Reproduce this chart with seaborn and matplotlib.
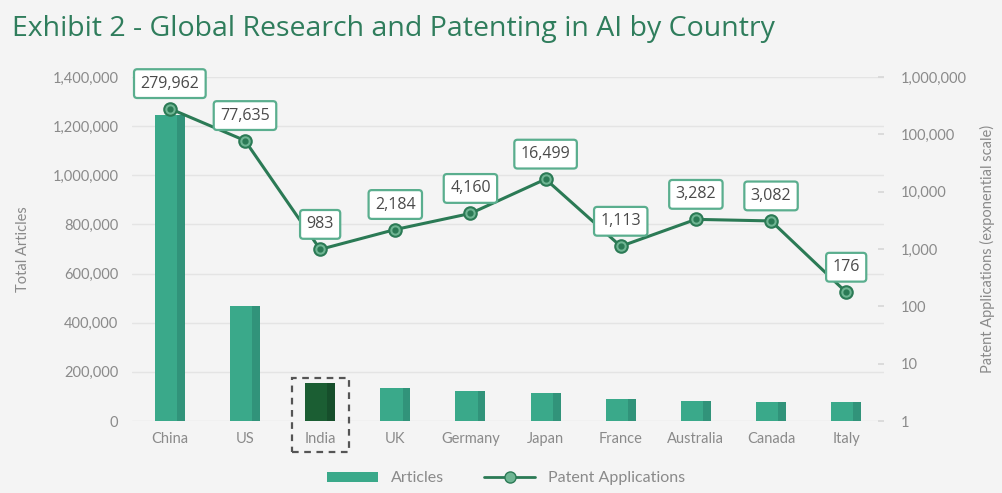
import numpy as np
import pandas as pd
import matplotlib
matplotlib.use("Agg")
import matplotlib.pyplot as plt
from matplotlib.patches import Rectangle, Patch
from matplotlib.lines import Line2D
from matplotlib.ticker import FuncFormatter, FixedLocator
import seaborn as sns

# ---- data ----
countries = ["China", "US", "India", "UK", "Germany", "Japan", "France", "Australia", "Canada", "Italy"]
articles = [1246000, 466000, 154000, 133000, 122000, 113000, 88000, 81000, 79000, 77000]
patents = [279962, 77635, 983, 2184, 4160, 16499, 1113, 3282, 3082, 176]
left_ticks = [0, 200000, 400000, 600000, 800000, 1000000, 1200000, 1400000]
right_ticks = [1, 10, 100, 1000, 10000, 100000, 1000000]
highlight = "India"

BG = "#f4f4f4"
BAR = "#3aa98a"
BAR_DARK = "#31937a"
HI = "#1b5e33"
HI_DARK = "#164e2b"
LINE = "#2b7a55"
BOX_EDGE = "#5aae8e"
TXT = "#8a8a8a"
TITLE = "#2f7d5c"

sns.set_theme(style="white")
plt.rcParams["font.family"] = ["Lato", "DejaVu Sans"]

fig = plt.figure(figsize=(10.02, 4.93), dpi=100, facecolor=BG)
ax = fig.add_axes([0.132, 0.146, 0.750, 0.698])
ax.set_facecolor(BG)

df = pd.DataFrame({"country": countries, "articles": articles, "patents": patents})
pal = [HI if c == highlight else BAR for c in countries]
sns.barplot(data=df, x="country", y="articles", hue="country", palette=pal,
            legend=False, width=0.4, ax=ax, saturation=1, edgecolor="none", zorder=2)

# darker right-side shading of each bar, derived from the bar geometry
for p, c in zip(ax.patches, countries):
    x, w, h = p.get_x(), p.get_width(), p.get_height()
    ax.add_patch(Rectangle((x + 0.74 * w, 0), 0.26 * w, h,
                           color=HI_DARK if c == highlight else BAR_DARK, lw=0, zorder=2.1))

ax.set_ylim(0, 1400000)
ax.set_xlim(-0.5, len(countries) - 0.5)
ax.yaxis.set_major_locator(FixedLocator(left_ticks))
ax.yaxis.set_major_formatter(FuncFormatter(lambda v, _: f"{int(v):,}"))
ax.grid(axis="y", color="#e4e4e4", lw=1, zorder=0)
ax.set_axisbelow(True)
for s in ax.spines.values():
    s.set_visible(False)
ax.tick_params(axis="both", length=0, colors=TXT, labelsize=10.5, pad=10)
ax.tick_params(axis="x", pad=8)
ax.set_xlabel("")
ax.set_ylabel("Total Articles", color=TXT, fontsize=10.5, labelpad=16)

# highlight box around India
hi_idx = countries.index(highlight)
hp = ax.patches[hi_idx]
trans = matplotlib.transforms.blended_transform_factory(ax.transData, ax.transAxes)
top_ax = (hp.get_height() / 1400000) + 0.015
ax.add_patch(Rectangle((hp.get_x() - 0.18, -0.09), hp.get_width() + 0.36, top_ax + 0.09,
                       transform=trans, fill=False, ec="#555555", lw=1.6,
                       ls=(0, (3, 2.5)), clip_on=False, zorder=5))

# patents on log twin axis
ax2 = ax.twinx()
ax2.set_yscale("log")
ax2.set_ylim(1, 1000000)
xs = np.arange(len(countries))
sns.lineplot(x=xs, y=patents, ax=ax2, color=LINE, lw=2.2, sort=False,
             marker="o", markersize=9, markerfacecolor="#6fb593",
             markeredgecolor=LINE, markeredgewidth=1.5, zorder=4)
ax2.plot(xs, patents, ls="none", marker="o", markersize=3.5, color=LINE, zorder=5)
ax2.set_xlim(-0.5, len(countries) - 0.5)
ax2.yaxis.set_major_locator(FixedLocator(right_ticks))
ax2.yaxis.set_minor_locator(FixedLocator([]))
ax2.yaxis.set_major_formatter(FuncFormatter(lambda v, _: f"{int(v):,}"))
ax2.tick_params(axis="y", direction="in", length=4, color="#d8d8d8", colors=TXT,
                labelsize=10.5, pad=12)
ax2.tick_params(axis="y", which="both", labelcolor=TXT)
for s in ax2.spines.values():
    s.set_visible(False)
ax2.set_ylabel("Patent Applications (exponential scale)", color=TXT, fontsize=10.5, labelpad=10)

for i, v in enumerate(patents):
    ax2.annotate(f"{v:,}", (i, v), xytext=(0, 18), textcoords="offset points",
                 ha="center", va="center", fontsize=11.5, color="#4a4a4a",
                 family=["Open Sans", "DejaVu Sans"],
                 bbox=dict(boxstyle="round,pad=0.4,rounding_size=0.2", fc="white",
                           ec=BOX_EDGE, lw=1.6), zorder=6)

fig.text(0.012, 0.942, "Exhibit 2 - Global Research and Patenting in AI by Country",
         color=TITLE, fontsize=20.5, ha="left", va="center",
         family=["Open Sans", "DejaVu Sans"])

handles = [Patch(facecolor=BAR, edgecolor="none", label="Articles"),
           Line2D([0], [0], color=LINE, lw=2, marker="o", markersize=8,
                  markerfacecolor="#6fb593", markeredgecolor=LINE, label="Patent Applications")]
fig.legend(handles=handles, loc="center", bbox_to_anchor=(0.505, 0.03), ncol=2,
           frameon=False, fontsize=11.5, labelcolor=TXT, handlelength=3.2,
           handleheight=0.6, columnspacing=2.5)

fig.savefig("out.png", dpi=100, facecolor=BG)
